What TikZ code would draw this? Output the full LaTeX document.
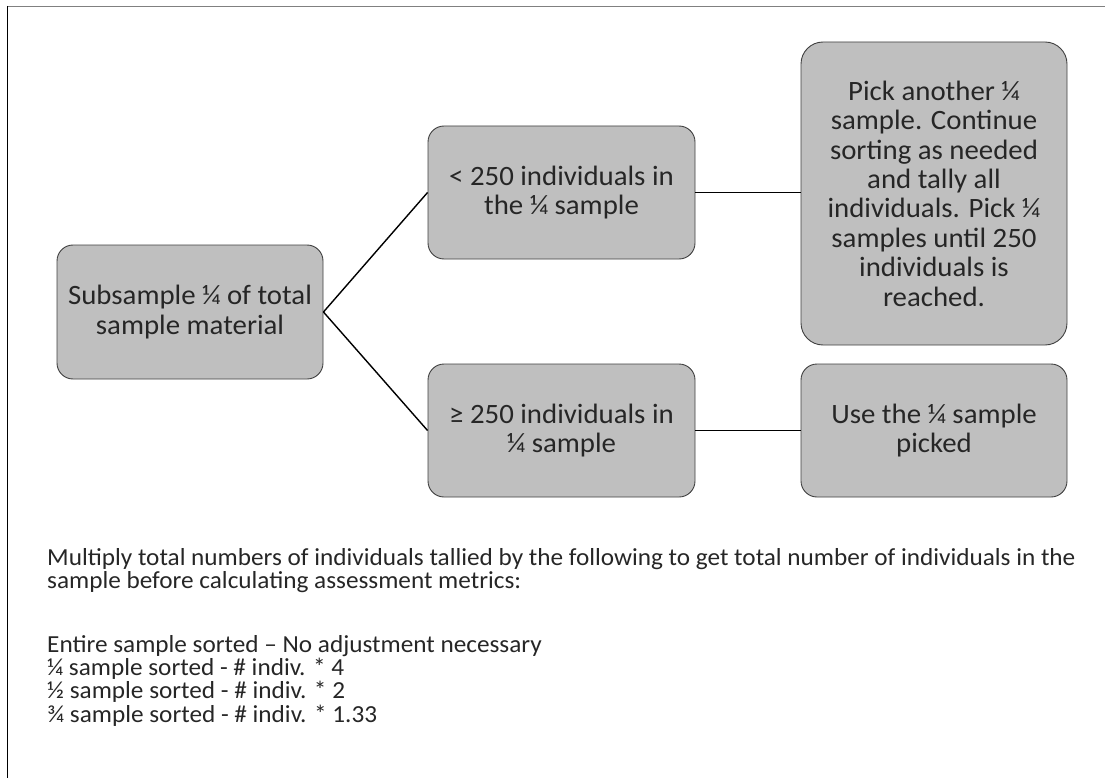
\documentclass[tikz,border=0pt]{standalone}
\usepackage{fontspec}
\setmainfont{Carlito}[FakeStretch=1.03]
\definecolor{boxfill}{HTML}{BFBFBF}
\definecolor{boxline}{HTML}{404040}
\definecolor{topline}{HTML}{808080}
\definecolor{boxtext}{HTML}{262626}
\begin{document}
\begin{tikzpicture}[x=1pt,y=-1pt,
  flowbox/.style={draw=boxline, line width=0.9pt, fill=boxfill, rounded corners=16pt,
    align=center, inner sep=0pt, text=boxtext,
    font=\fontsize{28}{29.4}\selectfont},
  link/.style={draw=black, line width=1.4pt},
  note/.style={anchor=base west, inner sep=0pt, text=boxtext, font=\fontsize{24.5}{23.3}\selectfont}]
\useasboundingbox (0,0) rectangle (1105,778);
\draw[topline, line width=1.2pt] (7,6.5) -- (1105,6.5);
\draw[black, line width=1pt] (7.5,6) -- (7.5,778);

\node[flowbox, minimum width=266pt, minimum height=134pt] (a) at (190,312)
  {Subsample ¼ of total\\sample material};
\node[flowbox, minimum width=267pt, minimum height=133pt] (b) at (561.5,192.5)
  {< 250 individuals in\\the ¼ sample};
\node[flowbox, minimum width=266pt, minimum height=303pt, rounded corners=22pt] (c) at (934,193.5)
  {Pick another ¼\\sample. Continue\\sorting as needed\\and tally all\\individuals. Pick ¼\\samples until 250\\individuals is\\reached.};
\node[flowbox, minimum width=267pt, minimum height=133pt] (d) at (561.5,430.5)
  {≥ 250 individuals in\\¼ sample};
\node[flowbox, minimum width=266pt, minimum height=133pt] (e) at (934,430.5)
  {Use the ¼ sample\\picked};

\draw[link] (a.east) -- (b.west);
\draw[link] (a.east) -- (d.west);
\draw[link] (b.east) -- (b.east -| c.west);
\draw[link] (d.east) -- (e.west);

\node[note] (t1) at (47,565) {Multiply total numbers of individuals tallied by the following to get total number of individuals in the};
\node[note] (t2) at (47,588) {sample before calculating assessment metrics:};
\node[note] (t3) at (47,652) {Entire sample sorted – No adjustment necessary};
\node[note] (t4) at (47,675) {¼ sample sorted - \# indiv. * 4};
\node[note] (t5) at (47,698) {½ sample sorted - \# indiv. * 2};
\node[note] (t6) at (47,722) {¾ sample sorted - \# indiv. * 1.33};
\end{tikzpicture}
\end{document}
